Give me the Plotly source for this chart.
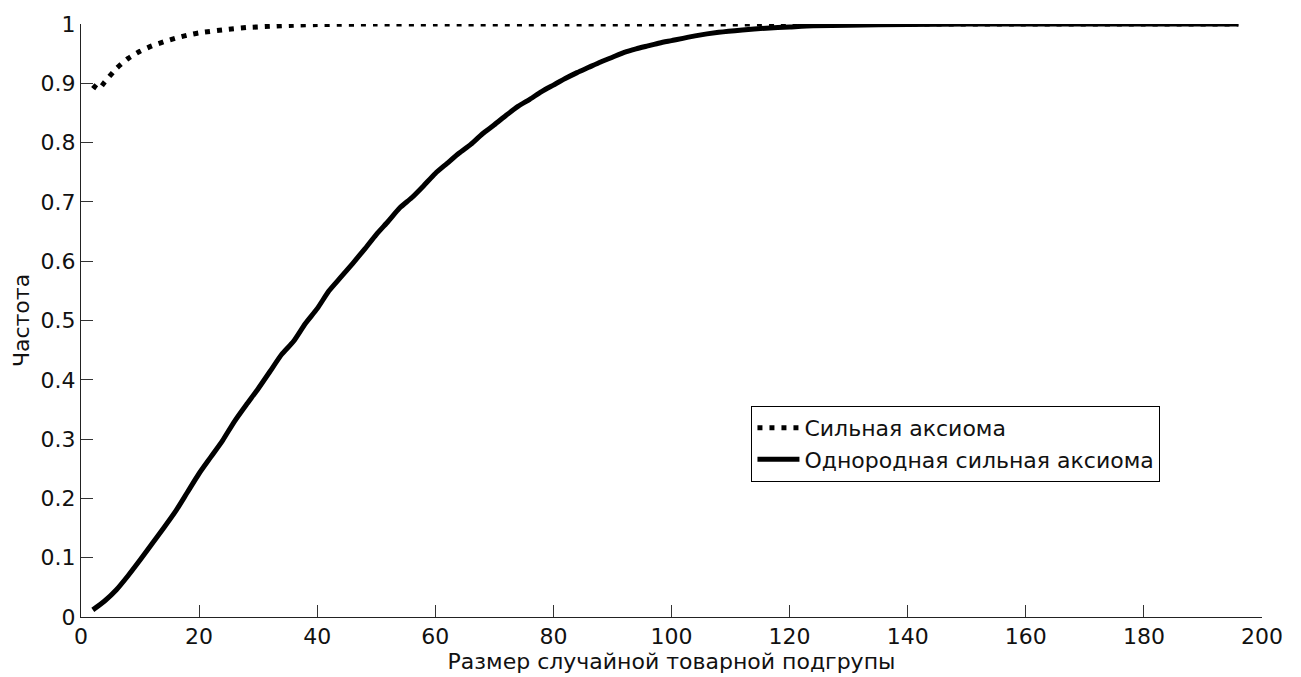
import plotly.graph_objects as go

# Group size (x) and observed frequency for each axiom
size_strong = [2, 3, 4, 6, 8, 10, 12, 14, 16, 18, 20, 24, 28, 32, 36, 40,
               50, 60, 80, 100, 120, 140, 160, 180, 196]
freq_strong = [0.897, 0.890, 0.902, 0.925, 0.942, 0.954, 0.963, 0.970, 0.976,
               0.981, 0.985, 0.990, 0.994, 0.996, 0.998, 0.999,
               1.0, 1.0, 1.0, 1.0, 1.0, 1.0, 1.0, 1.0, 1.0]

size_homog = [2, 4, 6, 8, 10, 12, 14, 16, 18, 20, 22, 24, 26, 28, 30, 32, 34,
              36, 38, 40, 42, 44, 46, 48, 50, 52, 54, 56, 58, 60, 62, 64, 66,
              68, 70, 72, 74, 76, 78, 80, 82, 84, 86, 88, 90, 92, 94, 96, 98,
              100, 104, 108, 112, 116, 120, 124, 130, 140, 150, 160, 170, 180,
              190, 196]
freq_homog = [0.012, 0.027, 0.046, 0.070, 0.096, 0.123, 0.150, 0.178, 0.210,
              0.242, 0.270, 0.298, 0.330, 0.358, 0.385, 0.414, 0.443, 0.465,
              0.495, 0.520, 0.550, 0.573, 0.596, 0.620, 0.645, 0.667, 0.690,
              0.707, 0.727, 0.748, 0.765, 0.782, 0.797, 0.815, 0.830, 0.846,
              0.861, 0.873, 0.886, 0.897, 0.908, 0.918, 0.927, 0.936, 0.944,
              0.952, 0.958, 0.963, 0.968, 0.972, 0.980, 0.986, 0.990, 0.993,
              0.995, 0.997, 0.998, 0.999, 1.0, 1.0, 1.0, 1.0, 1.0, 1.0]

x_ticks = [0, 20, 40, 60, 80, 100, 120, 140, 160, 180, 200]
y_ticks = [0, 0.1, 0.2, 0.3, 0.4, 0.5, 0.6, 0.7, 0.8, 0.9, 1]

FONT = "DejaVu Sans, Arial, sans-serif"
FS = 22

fig = go.Figure()
fig.add_trace(go.Scatter(
    x=size_strong, y=freq_strong, mode="lines", name="Сильная аксиома",
    line=dict(color="black", width=5, dash="5px,7px", shape="spline", smoothing=0.6),
))
fig.add_trace(go.Scatter(
    x=size_homog, y=freq_homog, mode="lines", name="Однородная сильная аксиома",
    line=dict(color="black", width=5, shape="spline", smoothing=0.6),
))

axis_common = dict(
    showline=True, linecolor="#222", linewidth=1, mirror=False,
    ticks="inside", ticklen=12, tickcolor="#333", tickwidth=1,
    showgrid=False, zeroline=False,
    tickfont=dict(family=FONT, size=FS, color="#111"),
)

fig.update_layout(
    width=1301, height=677,
    margin=dict(l=81, r=39, t=18, b=59),
    paper_bgcolor="white", plot_bgcolor="white",
    font=dict(family=FONT, size=FS, color="#111"),
    xaxis=dict(range=[0, 200], tickvals=x_ticks, **axis_common,
               title=dict(text="Размер случайной товарной подгрупы",
                          font=dict(family=FONT, size=FS), standoff=0)),
    yaxis=dict(range=[0, 1], tickvals=y_ticks, **axis_common,
               title=dict(text="Частота", font=dict(family=FONT, size=FS), standoff=4)),
    legend=dict(x=0.5677, y=0.356, xanchor="left", yanchor="top",
                bordercolor="black", borderwidth=1, bgcolor="white",
                font=dict(family=FONT, size=FS, color="#111"),
                itemwidth=42, tracegroupgap=0),
    showlegend=True,
)

fig.write_html("out.html")
